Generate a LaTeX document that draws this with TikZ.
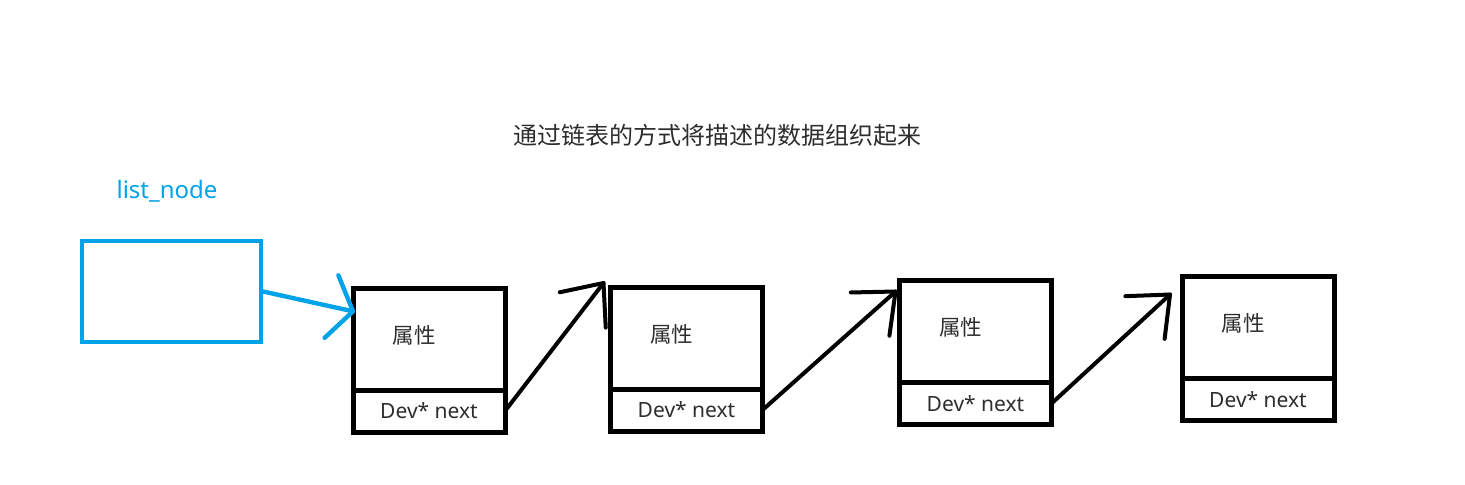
\documentclass[tikz,border=0pt]{standalone}
\usepackage{fontspec}
\setmainfont{Noto Sans}
\newfontfamily\cjk{Noto Sans CJK SC}
\usepackage{tikz}
\usetikzlibrary{arrows.meta, positioning, calc}
\definecolor{listblue}{RGB}{0,162,232}
\definecolor{txtgray}{RGB}{45,45,45}

% open V tip with straight arms
\pgfdeclarearrow{
    name = Vee,
    parameters = {\the\pgfarrowlength,\the\pgfarrowwidth},
    setup code = {
        \pgfarrowssettipend{0pt}
        \pgfarrowssetlineend{0pt}
        \pgfarrowshullpoint{0pt}{0pt}
        \pgfarrowshullpoint{-\pgfarrowlength}{.5\pgfarrowwidth}
        \pgfarrowshullpoint{-\pgfarrowlength}{-.5\pgfarrowwidth}
        \pgfarrowssavethe\pgfarrowlength
        \pgfarrowssavethe\pgfarrowwidth
    },
    drawing code = {
        \pgfsetdash{}{0pt}
        \pgfsetroundcap
        \pgfsetroundjoin
        \pgfpathmoveto{\pgfqpoint{-\pgfarrowlength}{.5\pgfarrowwidth}}
        \pgfpathlineto{\pgfqpoint{0pt}{0pt}}
        \pgfpathlineto{\pgfqpoint{-\pgfarrowlength}{-.5\pgfarrowwidth}}
        \pgfusepathqstroke
    },
    defaults = {length=10pt, width=20pt}
}

\begin{document}
\begin{tikzpicture}[x=0.5pt, y=-0.5pt,
        cell/.style={draw, line width=2.5pt, minimum width=76pt, inner sep=0pt, outer sep=0pt},
        attrcell/.style={cell, minimum height=51pt},
        nextcell/.style={cell, minimum height=21pt, text=txtgray, font=\fontsize{10.5pt}{12pt}\selectfont},
        attrtext/.style={text=txtgray, font=\cjk\fontsize{10.75pt}{12pt}\selectfont, xshift=-7.5pt, yshift=2pt},
        link/.style={line width=2pt, line cap=round, -{Vee[length=17pt, width=29pt]}},
        pointer/.style={listblue, line width=2.2pt, line cap=round, -{Vee[length=11pt, width=32pt]}}
    ]
        \useasboundingbox (0,0) rectangle (1465,484);

        % Title
        \node[text=txtgray, font=\cjk\fontsize{12pt}{14pt}\selectfont] (title) at (717,135) {通过链表的方式将描述的数据组织起来};

        % Head of the list
        \node[draw=listblue, line width=2.2pt, minimum width=89.5pt, minimum height=50.5pt] (lst) at (171.5,291.5) {};
        \node[text=listblue, font=\fontsize{12pt}{14pt}\selectfont] (lstname) at (167,191) {list\_node};

        % Elements
        \foreach \i/\x/\y in {1/429/339, 2/686.5/338, 3/975.5/331.5, 4/1258/327.5} {
            \node[attrcell, label={[attrtext]center:属性}] (attr\i) at (\x,\y) {};
            \node[nextcell, below=0pt of attr\i] (next\i) {Dev* next};
        }

        % Links
        \draw[pointer] (lst.east) -- (attr1.160);
        \draw[link] (next1.east) -- ($(attr2.north west)+(-7,-4)$);
        \draw[link] (next2.east) -- ($(attr3.north west)+(-4,11)$);
        \draw[link] (next3.east) -- ($(attr4.north west)+(-12,18)$);

    \end{tikzpicture}
\end{document}
